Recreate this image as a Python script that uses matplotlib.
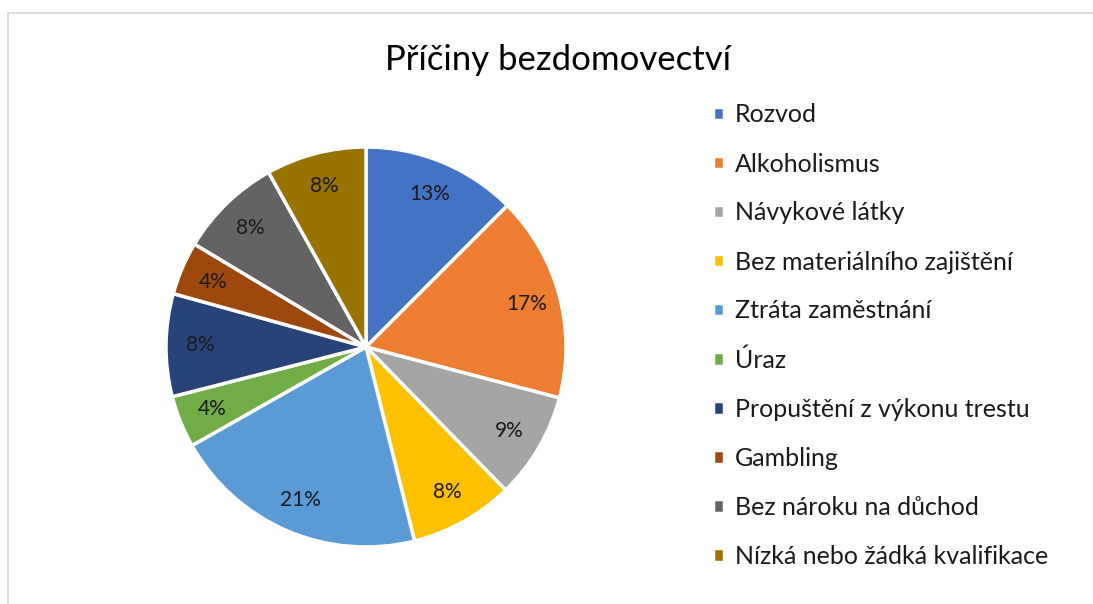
import numpy as np
import matplotlib.pyplot as plt
from matplotlib.patches import Rectangle

plt.rcParams['font.family'] = ['Lato', 'DejaVu Sans']

categories = ['Rozvod', 'Alkoholismus', 'Návykové látky', 'Bez materiálního zajištění',
              'Ztráta zaměstnání', 'Úraz', 'Propuštění z výkonu trestu', 'Gambling',
              'Bez nároku na důchod', 'Nízká nebo žádká kvalifikace']
shares = [12.5, 16.6, 8.6, 8.4, 20.7, 4.2, 8.3, 4.3, 8.3, 8.1]
pct_labels = ['13%', '17%', '9%', '8%', '21%', '4%', '8%', '4%', '8%', '8%']
colors = ['#4472C4', '#ED7D31', '#A5A5A5', '#FFC000', '#5B9BD5',
          '#70AD47', '#264478', '#9E480E', '#636363', '#997300']

W, H = 1093, 604
fig = plt.figure(figsize=(W / 100, H / 100), dpi=100)

# chart frame
fig.patches.append(Rectangle((8 / W, -0.05), 1.1, 1 - 13 / H + 0.05, transform=fig.transFigure,
                             fill=False, edgecolor='#D9D9D9', linewidth=1.3))

fig.text(558 / W, 1 - 60 / H, 'Příčiny bezdomovectví', ha='center', va='center', fontsize=25)

r = 200
cx, cy = 366, 347
ax = fig.add_axes([(cx - r) / W, 1 - (cy + r) / H, 2 * r / W, 2 * r / H])
wedges, _ = ax.pie(shares, colors=colors, startangle=90, counterclock=False, radius=1,
                   wedgeprops=dict(edgecolor='white', linewidth=2.5))
for w, lab in zip(wedges, pct_labels):
    ang = np.deg2rad((w.theta1 + w.theta2) / 2)
    ax.text(0.83 * np.cos(ang), 0.83 * np.sin(ang), lab, ha='center', va='center',
            fontsize=15, color='#1a1a1a')
ax.set_xlim(-1, 1)
ax.set_ylim(-1, 1)
ax.set_aspect('equal')
ax.axis('off')

leg = fig.legend(wedges, categories, loc='upper left', bbox_to_anchor=(700 / W, 1 - 91 / H),
                 frameon=False, fontsize=18, handlelength=0.45, handleheight=0.45,
                 handletextpad=0.45, labelspacing=1.04, borderpad=0)
for t in leg.get_texts():
    t.set_color('#1a1a1a')

fig.savefig('out.png', dpi=100)
